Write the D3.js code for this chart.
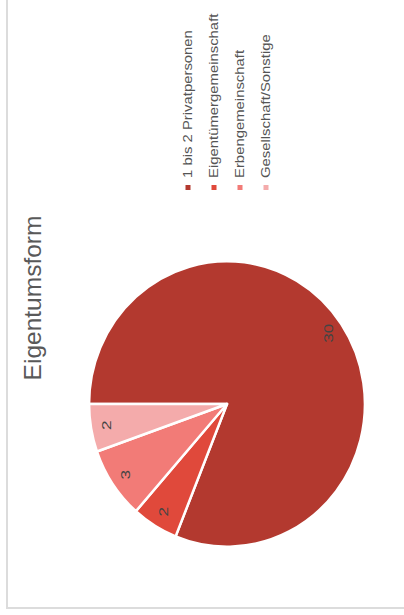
<!DOCTYPE html>
<html>
<head>
<meta charset="utf-8">
<script src="https://cdn.jsdelivr.net/npm/d3@7"></script>
<style>
  body { margin: 0; background: #fff; }
  text { font-family: "Liberation Sans", Arial, sans-serif; }
</style>
</head>
<body>
<svg></svg>
<script>
const width = 404
const height = 615

const title = 'Eigentumsform'
const categories = ['1 bis 2 Privatpersonen', 'Eigentümergemeinschaft', 'Erbengemeinschaft', 'Gesellschaft/Sonstige']
const values = [30, 2, 3, 2]
const colors = ['#b3392f', '#e0493b', '#f27b77', '#f4abab']

const center = { x: 227, y: 404 }
const radius = 140
const labelRadius = 124
const stretch = 1.24 // small texts are drawn wider along their reading direction

const svg = d3.select('svg')
  .attr('width', width)
  .attr('height', height)

/** Card border (left and bottom edges visible) */
svg.append('path')
  .attr('d', `M7,0V608H${width}`)
  .attr('fill', 'none')
  .attr('stroke', '#dcdcdc')
  .attr('stroke-width', 2)

/** Title, rotated with the rest of the chart */
svg.append('text')
  .attr('transform', `translate(41, 298) rotate(-90)`)
  .attr('text-anchor', 'middle')
  .attr('font-size', 24.5)
  .attr('fill', '#595959')
  .text(title)

const color = d3.scaleOrdinal().domain(categories).range(colors)

/** Pie starts at 9 o'clock and runs clockwise */
const pie = d3.pie()
  .sort(null)
  .value(d => d.value)
  .startAngle(-Math.PI / 2)
  .endAngle(Math.PI * 1.5)

const data = categories.map((c, i) => ({ name: c, value: values[i] }))
const arcs = pie(data)

const arc = d3.arc().innerRadius(0).outerRadius(radius)
const labelArc = d3.arc().innerRadius(labelRadius).outerRadius(labelRadius)

// reference pie is a touch taller than wide
const g = svg.append('g')
  .attr('transform', `translate(${center.x}, ${center.y}) scale(0.985, 1.02)`)

g.selectAll('path')
  .data(arcs)
  .enter()
  .append('path')
  .attr('d', arc)
  .attr('fill', d => color(d.data.name))
  .attr('stroke', '#fff')
  .attr('stroke-width', 2.5)
  .attr('stroke-linejoin', 'round')

g.selectAll('text')
  .data(arcs)
  .enter()
  .append('text')
  .attr('transform', d => {
    const [x, y] = labelArc.centroid(d)
    return `translate(${x}, ${y}) rotate(-90) scale(${stretch}, 1)`
  })
  .attr('text-anchor', 'middle')
  .attr('dy', '0.35em')
  .attr('font-size', 13.5)
  .attr('fill', '#444')
  .text(d => d.data.value)

/** Legend, one vertical entry per category */
const legendX = d3.scalePoint()
  .domain(categories)
  .range([188, 266])

const legend = svg.selectAll('.legend')
  .data(categories)
  .enter()
  .append('g')
  .attr('class', 'legend')
  .attr('transform', d => `translate(${legendX(d)}, 187.5)`)

legend.append('rect')
  .attr('x', -2.5)
  .attr('y', -2.5)
  .attr('width', 5)
  .attr('height', 5)
  .attr('fill', d => color(d))

legend.append('text')
  .attr('transform', `translate(0, -9.5) rotate(-90) scale(${stretch}, 1)`)
  .attr('dy', '0.36em')
  .attr('font-size', 12)
  .attr('fill', '#555')
  .text(d => d)
</script>
</body>
</html>
